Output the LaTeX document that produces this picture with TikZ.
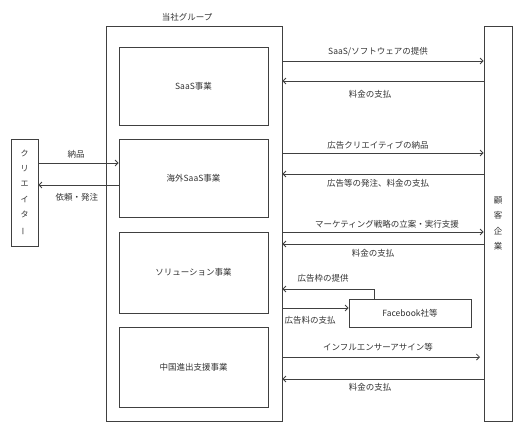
\documentclass[tikz,border=0pt]{standalone}
\usepackage{fontspec}
\setmainfont{Noto Sans CJK JP}
\usetikzlibrary{arrows.meta}
\begin{document}
\begin{tikzpicture}[x=1pt,y=-1pt,
  line width=0.8pt,
  box/.style={draw=black!75, fill=white, inner sep=0pt, font=\fontsize{8.5}{10}\selectfont, text=black!80},
  lbl/.style={inner sep=0pt, font=\fontsize{8.5}{10}\selectfont, text=black!80},
  arr/.style={draw=black!75, -{Straight Barb[length=3pt,width=6pt]}}]
\useasboundingbox (0,0) rectangle (520,432);
% group
\node[box, minimum width=176pt, minimum height=395pt] (grp) at (194,223.5) {};
\node[lbl] (grpt) at (187,17) {当社グループ};
\node[box, minimum width=149pt, minimum height=78pt] (saas) at (193.5,86) {SaaS事業};
\node[box, minimum width=149pt, minimum height=78pt] (kaigai) at (193.5,178) {海外SaaS事業};
\node[box, minimum width=149pt, minimum height=81pt] (sol) at (193.5,272.5) {ソリューション事業};
\node[box, minimum width=149pt, minimum height=80pt] (china) at (193.5,367) {中国進出支援事業};
% creator
\node[box, minimum width=27pt, minimum height=107pt, align=center, font=\fontsize{8}{15.3}\selectfont] (cre) at (24.5,192.5) {ク\\リ\\エ\\イ\\タ\\\rotatebox[origin=c]{90}{ー}};
% customer
\node[box, minimum width=28pt, minimum height=395pt, align=center, font=\fontsize{8.5}{15.6}\selectfont] (cus) at (498,223.5) {顧\\客\\企\\業};
% facebook
\node[box, minimum width=122pt, minimum height=28pt] (fb) at (410,313) {Facebook社等};
% creator arrows
\draw[arr] (cre.east |- 0,163) -- (kaigai.west |- 0,163);
\draw[arr] (kaigai.west |- 0,185) -- (cre.east |- 0,185);
\node[lbl] (l1) at (76,154) {納品};
\node[lbl] (l2) at (77,197) {依頼・発注};
% customer arrows
\draw[arr] (grp.east |- 0,61) -- (cus.west |- 0,61);
\draw[arr] (cus.west |- 0,81) -- (grp.east |- 0,81);
\node[lbl] (r1) at (378,52) {SaaS/ソフトウェアの提供};
\node[lbl] (r2) at (370,94) {料金の支払};
\draw[arr] (grp.east |- 0,153) -- (cus.west |- 0,153);
\draw[arr] (cus.west |- 0,174) -- (grp.east |- 0,174);
\node[lbl] (r3) at (378,145) {広告クリエイティブの納品};
\node[lbl] (r4) at (378,183) {広告等の発注、料金の支払};
\draw[arr] (grp.east |- 0,232) -- (cus.west |- 0,232);
\draw[arr] (cus.west |- 0,244) -- (grp.east |- 0,244);
\node[lbl] (r5) at (387,224) {マーケティング戦略の立案・実行支援};
\node[lbl] (r6) at (373,253) {料金の支払};
% facebook arrows
\coordinate (fbt) at (374,299);
\draw[arr] (fb.north -| fbt) |- (grp.east |- 0,289);
\draw[arr] (grp.east |- 0,308) -- (fb.west |- 0,308);
\node[lbl] (r7) at (323,278) {広告枠の提供};
\node[lbl] (r8) at (310,320) {広告料の支払};
% china arrows
\coordinate (ie) at (480,357);
\draw[arr] (grp.east |- ie) -- (ie);
\draw[arr] (cus.west |- 0,379) -- (grp.east |- 0,379);
\node[lbl] (r9) at (378,347) {インフルエンサーアサイン等};
\node[lbl] (r10) at (370,387) {料金の支払};
\end{tikzpicture}
\end{document}
